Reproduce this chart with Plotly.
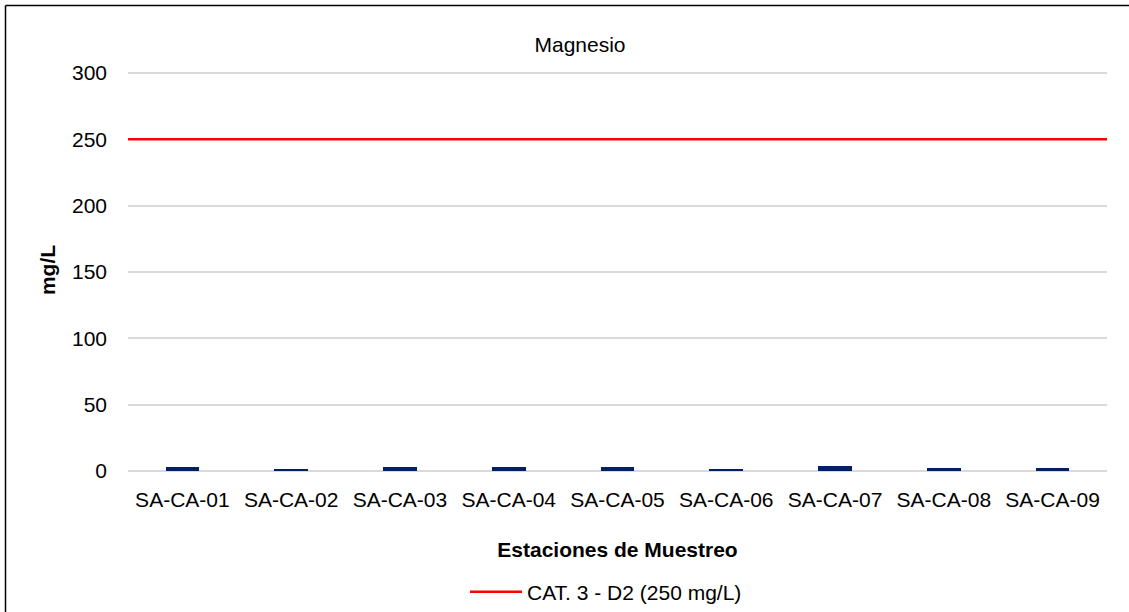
import plotly.graph_objects as go

# Sampling stations and measured magnesium (mg/L)
estaciones = ["SA-CA-01", "SA-CA-02", "SA-CA-03", "SA-CA-04", "SA-CA-05",
              "SA-CA-06", "SA-CA-07", "SA-CA-08", "SA-CA-09"]
magnesio = [3.0, 1.5, 3.1, 3.0, 3.0, 1.7, 3.7, 2.3, 2.2]

# Regulatory limit ECA Cat. 3 - D2
limite = 250
limite_nombre = "CAT. 3 - D2 (250 mg/L)"

y_ticks = [0, 50, 100, 150, 200, 250, 300]
y_max = 303

idx = list(range(len(estaciones)))

fig = go.Figure()
fig.add_trace(go.Bar(
    x=idx, y=magnesio, width=0.31,
    marker=dict(color="#002060", line=dict(color="#002060", width=0)),
    showlegend=False, name="Magnesio",
))
fig.add_trace(go.Scatter(
    x=[-0.5, len(estaciones) - 0.5], y=[limite, limite],
    mode="lines", line=dict(color="#ff0000", width=2.5),
    name=limite_nombre, showlegend=True,
))

L, R, T, B = 128, 22, 69, 141
W, H = 1129, 612
pw, ph = W - L - R, H - T - B

fig.update_layout(
    width=W, height=H,
    margin=dict(l=L, r=R, t=T, b=B, autoexpand=False),
    paper_bgcolor="white", plot_bgcolor="white",
    font=dict(family="Liberation Sans, Arial, sans-serif", size=21, color="#000000"),
    title=dict(text="Magnesio", x=580 / W, xanchor="center",
               y=1 - 45 / H, yanchor="middle",
               font=dict(size=21)),
    xaxis=dict(
        range=[-0.5, len(estaciones) - 0.5], automargin=False,
        tickmode="array", tickvals=idx, ticktext=estaciones,
        showgrid=False, zeroline=False, showline=False,
        ticks="", ticklabelstandoff=14,
        title=dict(text="<b>Estaciones de Muestreo</b>", standoff=32,
                   font=dict(size=21)),
    ),
    yaxis=dict(
        range=[0, y_max], tickvals=y_ticks, automargin=False,
        showgrid=True, gridcolor="#d9d9d9", gridwidth=1.5,
        zeroline=True, zerolinecolor="#d9d9d9", zerolinewidth=2,
        showline=False, ticks="",
        ticklabelstandoff=20,
        title=dict(text="<b>mg/L</b>", standoff=10, font=dict(size=21)),
    ),
    legend=dict(orientation="h", x=(606 - L) / pw, itemwidth=52,
                xanchor="center", y=-(592 - (T + ph)) / ph, yanchor="middle",
                font=dict(size=21), bgcolor="rgba(0,0,0,0)"),
    bargap=0,
)

# chart frame (left and top edges fall inside the page)
fx = (5.5 - L) / pw
fy = (T + ph - 5.5) / ph
for x0, y0, x1, y1 in [(fx, -2, fx, fy), (fx, fy, 2, fy)]:
    fig.add_shape(type="line", xref="paper", yref="paper",
                  x0=x0, y0=y0, x1=x1, y1=y1,
                  line=dict(color="#000000", width=1.5), layer="below")

fig.write_html("out.html")
